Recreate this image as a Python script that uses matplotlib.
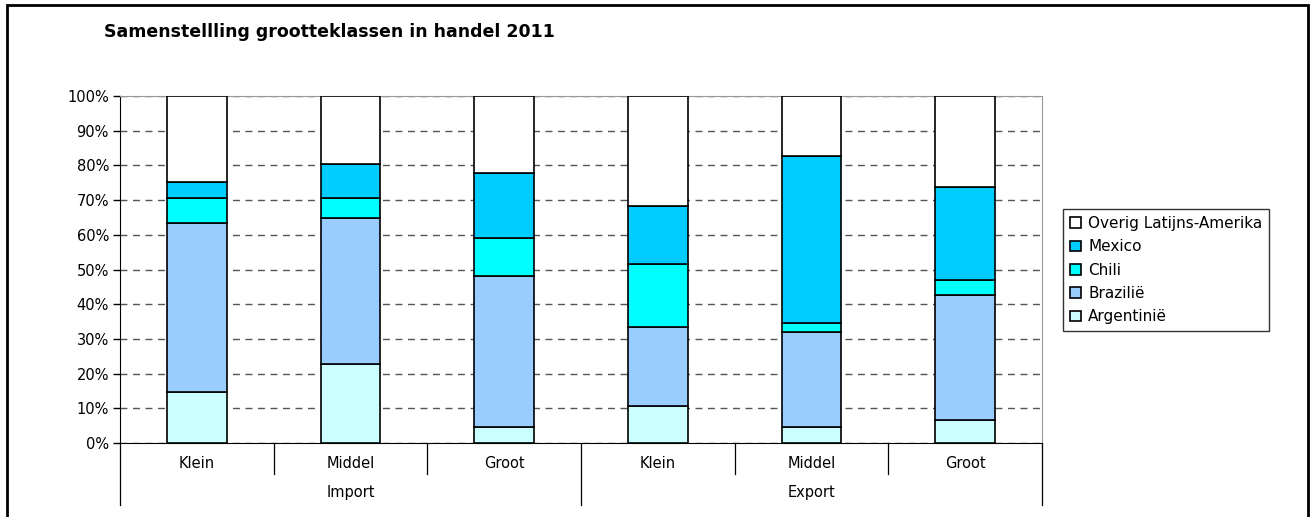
import matplotlib.pyplot as plt
from matplotlib.patches import Rectangle
from matplotlib.lines import Line2D

plt.rcParams['font.family'] = ['DejaVu Sans']

# categories
sizes = ['Klein', 'Middel', 'Groot', 'Klein', 'Middel', 'Groot']
groups = ['Import', 'Export']

# shares per country (percent), same order as sizes
argentinie = [14.7, 22.8, 4.7, 10.8, 4.5, 6.7]
brazilie = [48.8, 42.1, 43.3, 22.6, 27.4, 35.9]
chili = [7.2, 5.6, 11.0, 18.1, 2.7, 4.4]
mexico = [4.6, 9.8, 18.7, 16.8, 48.0, 26.8]
overig = [24.7, 19.7, 22.3, 31.7, 17.4, 26.2]

series = [
    ('Argentinië', argentinie, '#CCFFFF'),
    ('Brazilië', brazilie, '#99CCFF'),
    ('Chili', chili, '#00FFFF'),
    ('Mexico', mexico, '#00CCFF'),
    ('Overig Latijns-Amerika', overig, '#FFFFFF'),
]

W, H = 1315, 517
fig = plt.figure(figsize=(W / 100, H / 100), dpi=100)

# outer frame
fig.patches.append(Rectangle((7 / W, -0.1), (1308 - 7) / W, 1.1 - 5 / H,
                             transform=fig.transFigure, fill=False,
                             edgecolor='black', linewidth=2))

ax = fig.add_axes([120 / W, 1 - 443 / H, (1042 - 120) / W, (443 - 96) / H])

x = list(range(len(sizes)))
bottom = [0] * len(sizes)
for name, vals, col in series:
    ax.bar(x, vals, bottom=bottom, width=0.39, color=col, edgecolor='black',
           linewidth=1.2, label=name, zorder=3)
    bottom = [b + v for b, v in zip(bottom, vals)]

ax.set_xlim(-0.5, len(sizes) - 0.5)
ax.set_ylim(0, 100)
ax.set_yticks(range(0, 101, 10))
ax.set_yticklabels([f'{v}%' for v in range(0, 101, 10)], fontsize=10.5)
ax.tick_params(axis='y', length=5, width=1, pad=3)
ax.set_xticks([])
ax.yaxis.grid(True, linestyle=(0, (5, 4)), color='#555555', linewidth=1, zorder=0)

for s in ['top', 'right']:
    ax.spines[s].set_color('#999999')
for s in ['left', 'bottom']:
    ax.spines[s].set_color('black')

# category axis: labels and separators
px = 1 / (443 - 96)
for i, lab in enumerate(sizes):
    ax.text(i, -20 * px, lab, ha='center', va='center', fontsize=10.5,
            transform=ax.get_xaxis_transform())
for i in range(len(sizes) + 1):
    end = -62 * px if i % 3 == 0 else -31 * px
    ax.add_line(Line2D([i - 0.5, i - 0.5], [0, end], color='black', linewidth=0.9,
                       transform=ax.get_xaxis_transform(), clip_on=False))
for j, g in enumerate(groups):
    ax.text(3 * j + 1, -50 * px, g, ha='center', va='center', fontsize=10.5,
            transform=ax.get_xaxis_transform())

fig.text(104 / W, 1 - 32 / H, 'Samenstellling grootteklassen in handel 2011',
         fontsize=12.5, fontweight='bold', ha='left', va='center')

handles, labels = ax.get_legend_handles_labels()
leg = fig.legend(handles[::-1], labels[::-1], loc='upper left',
                 bbox_to_anchor=(1063 / W, 1 - 209 / H), fontsize=11,
                 frameon=True, fancybox=False, edgecolor='black',
                 handlelength=0.7, handleheight=0.7, handletextpad=0.5,
                 labelspacing=0.55, borderpad=0.45, borderaxespad=0)
leg.get_frame().set_linewidth(1)

fig.savefig('out.png', dpi=100)
